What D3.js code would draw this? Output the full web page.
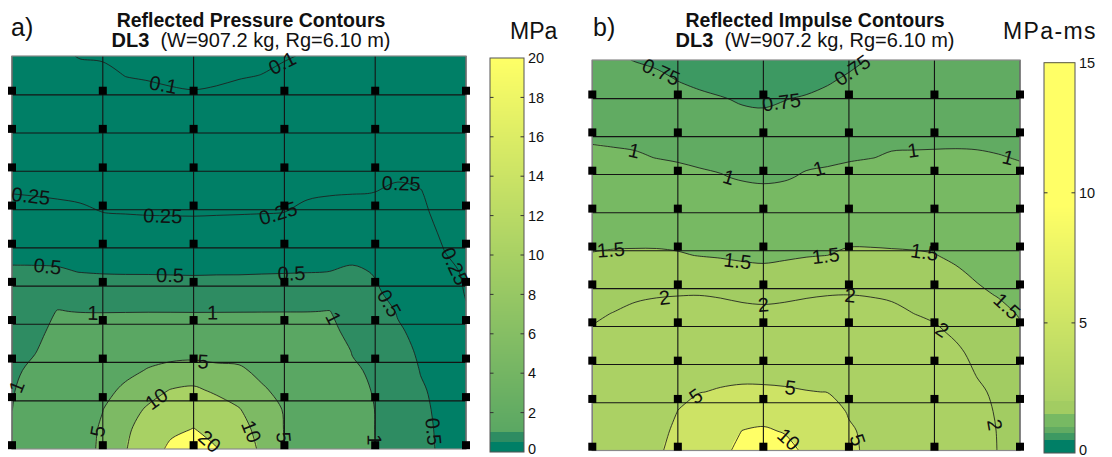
<!DOCTYPE html>
<html>
<head>
<meta charset="utf-8">
<title>Reflected Pressure and Impulse Contours</title>
<script src="https://cdn.jsdelivr.net/npm/d3@7"></script>
<style>
  html, body { margin: 0; padding: 0; background: #ffffff; }
  svg { display: block; font-family: "Liberation Sans", Arial, Helvetica, sans-serif; }
</style>
</head>
<body>
<svg id="chart" width="1112" height="457"></svg>
<script>
// ---- wall geometry: gauge columns 0..5 across, height 0..10.3 ----
const wallSpan = [0, 5];
const wallHeight = [0, 10.3];
const gaugeColumns = [0, 1, 2, 3, 4, 5];
const gaugeHeights = [0.1, 1.36, 2.37, 3.38, 4.38, 5.38, 6.38, 7.38, 8.39, 9.39];
const rowLines = [1.26, 2.27, 3.27, 4.27, 5.27, 6.27, 7.28, 8.28, 9.28];

// ---- reflected pressure (MPa), 21 x 21 nodes, top row first ----
const pressureField = [
  [0.13,0.12,0.11,0.097,0.094,0.085,0.08,0.075,0.07,0.075,0.08,0.088,0.095,0.105,0.12,0.13,0.14,0.15,0.16,0.165,0.17],
  [0.147,0.138,0.128,0.117,0.114,0.099,0.095,0.088,0.085,0.088,0.096,0.101,0.113,0.124,0.138,0.147,0.157,0.165,0.17,0.174,0.175],
  [0.164,0.155,0.147,0.137,0.133,0.12,0.114,0.11,0.106,0.111,0.117,0.122,0.132,0.143,0.155,0.164,0.173,0.18,0.181,0.182,0.18],
  [0.18,0.173,0.165,0.157,0.152,0.141,0.136,0.132,0.129,0.133,0.138,0.143,0.152,0.162,0.173,0.18,0.19,0.195,0.192,0.191,0.186],
  [0.198,0.19,0.183,0.176,0.172,0.162,0.157,0.154,0.151,0.155,0.16,0.164,0.172,0.181,0.191,0.197,0.206,0.21,0.203,0.2,0.192],
  [0.215,0.208,0.202,0.196,0.191,0.183,0.178,0.176,0.174,0.177,0.181,0.185,0.191,0.2,0.209,0.214,0.223,0.225,0.214,0.208,0.198],
  [0.232,0.225,0.22,0.215,0.211,0.204,0.2,0.198,0.196,0.199,0.203,0.206,0.211,0.219,0.226,0.231,0.239,0.24,0.24,0.217,0.204],
  [0.249,0.243,0.239,0.235,0.23,0.226,0.221,0.22,0.219,0.221,0.224,0.227,0.23,0.238,0.244,0.248,0.251,0.264,0.253,0.226,0.21],
  [0.315,0.296,0.278,0.266,0.251,0.247,0.243,0.242,0.241,0.243,0.245,0.248,0.251,0.275,0.296,0.31,0.307,0.3,0.26,0.235,0.216],
  [0.385,0.371,0.355,0.343,0.328,0.318,0.306,0.303,0.3,0.306,0.313,0.322,0.329,0.348,0.364,0.379,0.362,0.336,0.27,0.243,0.222],
  [0.455,0.445,0.432,0.42,0.404,0.397,0.39,0.387,0.384,0.389,0.393,0.4,0.407,0.421,0.432,0.448,0.417,0.372,0.29,0.252,0.228],
  [0.525,0.529,0.527,0.497,0.481,0.476,0.475,0.471,0.467,0.472,0.472,0.479,0.485,0.493,0.503,0.529,0.49,0.42,0.355,0.286,0.235],
  [0.592,0.636,0.766,0.735,0.695,0.686,0.686,0.675,0.664,0.671,0.678,0.696,0.714,0.734,0.754,0.636,0.52,0.449,0.38,0.31,0.243],
  [0.66,0.744,1.02,0.98,0.954,0.95,0.95,0.945,0.937,0.94,0.95,0.966,0.98,0.99,1.01,0.744,0.64,0.48,0.406,0.332,0.258],
  [0.727,0.852,1.15,1.4,1.66,1.93,2.22,2.24,2.23,2.24,2.25,1.99,1.7,1.41,1.12,0.852,0.71,0.53,0.434,0.353,0.272],
  [0.795,0.96,1.35,1.83,2.46,3.08,3.7,3.8,3.84,3.8,3.78,3.13,2.5,1.97,1.45,0.96,0.78,0.59,0.46,0.373,0.287],
  [0.863,1.16,1.7,2.26,3.26,4.2,5.2,5.96,6.29,5.73,5.49,4.26,3.3,2.62,1.94,1.1,0.88,0.68,0.489,0.395,0.301],
  [0.931,1.42,2.0,2.7,4.06,5.6,8.1,10.2,10.98,9.0,7.99,5.4,4.1,3.26,2.42,1.4,0.9,0.74,0.53,0.42,0.316],
  [0.99,1.68,2.3,3.1,4.95,7.8,10.7,14.3,15.6,12.9,10.26,7.4,4.7,3.74,2.78,1.82,0.974,0.77,0.555,0.436,0.33],
  [1.2,1.94,2.55,3.5,5.45,8.9,12.9,18,20.3,17,11.8,8.4,4.85,3.87,2.88,1.89,0.98,0.785,0.57,0.448,0.345],
  [1.4,2.2,2.8,3.8,5.55,9.6,15,22,30,20.4,14,8.85,5.05,4.0,2.97,1.93,0.98,0.79,0.575,0.456,0.36]
];
const pressureLevels = [0.1, 0.25, 0.5, 1, 5, 10, 20];
const pressureTicks = [0, 2, 4, 6, 8, 10, 12, 14, 16, 18, 20];
const pressureSteps = [0.5];
const pressureStepColors = ["#007f66", "#2e8c62"];
const pressureRamp = [1, 20];
const pressureRampColors = ["#5aa763", "#ffff66"];
// contour label spots: [level, column, height]
const pressureLabelSpots = [
  [0.1, 1.66, 9.49], [0.1, 3.0, 10.01],
  [0.25, 0.2, 6.47], [0.25, 1.66, 6.0], [0.25, 2.93, 6.16], [0.25, 4.27, 6.84], [0.25, 4.85, 4.74],
  [0.5, 0.39, 4.69], [0.5, 1.74, 4.43], [0.5, 3.08, 4.51], [0.5, 4.11, 3.75], [0.5, 4.6, 0.45],
  [1, 0.89, 3.43], [1, 2.21, 3.51], [1, 3.54, 3.43], [1, 4.0, 0.24], [1, 0.09, 1.6],
  [5, 2.09, 2.02], [5, 1.0, 0.45], [5, 3.02, 0.31],
  [10, 1.63, 1.18], [10, 2.62, 0.45],
  [20, 2.18, 0.21]
];

// ---- reflected impulse (MPa-ms), 21 x 21 nodes, top row first ----
const impulseField = [
  [0.8,0.77,0.745,0.72,0.68,0.64,0.6,0.56,0.55,0.57,0.6,0.64,0.71,0.76,0.8,0.79,0.78,0.79,0.8,0.81,0.82],
  [0.844,0.82,0.8,0.785,0.745,0.711,0.675,0.63,0.62,0.64,0.68,0.73,0.773,0.807,0.841,0.83,0.82,0.83,0.838,0.846,0.854],
  [0.889,0.869,0.853,0.838,0.805,0.786,0.763,0.73,0.72,0.745,0.77,0.794,0.825,0.854,0.883,0.869,0.86,0.869,0.876,0.882,0.888],
  [0.933,0.919,0.906,0.891,0.863,0.844,0.824,0.796,0.786,0.803,0.831,0.851,0.877,0.901,0.925,0.909,0.9,0.909,0.914,0.918,0.922],
  [0.978,0.969,0.959,0.943,0.921,0.902,0.885,0.857,0.847,0.862,0.891,0.908,0.929,0.948,0.966,0.948,0.94,0.948,0.952,0.954,0.956],
  [1.046,1.035,1.023,0.996,0.978,0.96,0.946,0.919,0.908,0.921,0.952,0.964,0.98,0.995,1.017,1.033,1.045,1.044,1.032,1.01,0.99],
  [1.139,1.133,1.123,1.099,1.069,1.036,1.013,0.98,0.969,0.98,1.024,1.042,1.072,1.098,1.12,1.13,1.137,1.125,1.104,1.081,1.045],
  [1.232,1.23,1.223,1.205,1.18,1.149,1.126,1.084,1.061,1.083,1.138,1.156,1.187,1.206,1.22,1.227,1.229,1.206,1.176,1.147,1.107],
  [1.325,1.327,1.322,1.311,1.29,1.263,1.24,1.203,1.183,1.204,1.251,1.27,1.301,1.313,1.321,1.324,1.321,1.287,1.248,1.214,1.169],
  [1.418,1.424,1.422,1.417,1.401,1.376,1.353,1.322,1.304,1.326,1.364,1.384,1.416,1.421,1.422,1.42,1.413,1.368,1.32,1.28,1.231],
  [1.516,1.535,1.542,1.544,1.526,1.489,1.467,1.441,1.426,1.448,1.478,1.499,1.558,1.555,1.54,1.529,1.509,1.449,1.392,1.346,1.294],
  [1.656,1.696,1.731,1.745,1.751,1.731,1.684,1.629,1.603,1.643,1.698,1.738,1.772,1.758,1.72,1.687,1.644,1.548,1.464,1.413,1.356],
  [1.795,1.857,1.92,1.946,1.975,1.984,1.944,1.885,1.859,1.89,1.941,1.979,1.992,1.961,1.904,1.845,1.779,1.674,1.551,1.48,1.418],
  [1.934,2.015,2.115,2.24,2.26,2.27,2.23,2.16,2.13,2.16,2.22,2.27,2.27,2.24,2.16,2.005,1.914,1.8,1.653,1.58,1.48],
  [2.05,2.16,2.31,2.56,2.97,3.15,3.18,3.11,3.06,3.09,3.12,3.16,2.91,2.7,2.5,2.3,2.1,1.927,1.756,1.68,1.55],
  [2.14,2.3,2.51,2.88,3.49,3.75,3.84,3.83,3.78,3.79,3.76,3.76,3.38,3.1,2.85,2.59,2.3,2.1,1.858,1.75,1.61],
  [2.23,2.44,2.71,3.2,4.0,4.34,4.51,4.54,4.5,4.49,4.39,4.36,3.85,3.53,3.21,2.89,2.57,2.25,1.96,1.82,1.67],
  [2.32,2.58,2.91,3.53,4.52,4.94,5.15,5.3,5.3,5.2,5.06,4.97,4.52,4.12,3.68,3.32,2.92,2.53,2.1,1.88,1.72],
  [2.42,2.72,3.11,3.85,5.03,5.84,6.55,7.94,8.23,7.6,6.45,5.8,4.85,4.45,4.01,3.57,3.13,2.69,2.2,1.93,1.76],
  [2.51,2.86,3.3,4.17,5.53,6.77,7.79,10.05,10.53,9.7,7.82,6.65,5.22,4.6,4.19,3.73,3.26,2.8,2.3,1.96,1.79],
  [2.6,3.0,3.5,4.5,6.0,7.7,9.0,11.0,12.5,11.5,9.2,7.5,5.35,4.65,4.26,3.79,3.32,2.86,2.35,1.97,1.82]
];
const impulseLevels = [0.5, 0.75, 1, 1.5, 2, 5, 10];
const impulseTicks = [0, 5, 10, 15];
const impulseSteps = [0.5, 0.75, 1, 1.5];
const impulseStepColors = ["#007f66", "#3d9962", "#61ab62", "#77b963", "#a2cc62"];
const impulseRamp = [2, 9.5];
const impulseRampColors = ["#abd164", "#ffff66"];
const impulseLabelSpots = [
  [0.75, 0.75, 9.77], [0.75, 2.23, 9.06], [0.75, 3.01, 10.12],
  [1, 0.48, 7.79], [1, 1.57, 7.08], [1, 2.66, 7.32], [1, 3.75, 7.85], [1, 4.85, 7.66],
  [1.5, 0.22, 5.24], [1.5, 1.69, 4.87], [1.5, 2.73, 5.1], [1.5, 3.88, 5.18], [1.5, 4.86, 3.84],
  [2, 0.85, 3.92], [2, 2.0, 3.79], [2, 3.01, 4.0], [2, 4.06, 3.1], [2, 4.68, 0.67],
  [5, 1.23, 1.38], [5, 2.32, 1.73], [5, 3.1, 0.28],
  [10, 2.34, 0.38]
];

const svg = d3.select("#chart");

const panels = [
  {
    key: "a", letter: "a)", title: "Reflected Pressure Contours", unit: "MPa",
    field: pressureField, levels: pressureLevels, ticks: pressureTicks,
    steps: pressureSteps, stepColors: pressureStepColors,
    ramp: pressureRamp, rampColors: pressureRampColors, labels: pressureLabelSpots,
    frame: { left: 12, right: 466, top: 56, bottom: 449 },
    bar: { left: 490, right: 524, top: 58, bottom: 452 },
    titleX: 251, letterX: 11, unitX: 510, unitSpacing: 0
  },
  {
    key: "b", letter: "b)", title: "Reflected Impulse Contours", unit: "MPa-ms",
    field: impulseField, levels: impulseLevels, ticks: impulseTicks,
    steps: impulseSteps, stepColors: impulseStepColors,
    ramp: impulseRamp, rampColors: impulseRampColors, labels: impulseLabelSpots,
    frame: { left: 592.3, right: 1020, top: 60, bottom: 450.5 },
    bar: { left: 1044, right: 1075, top: 62.7, bottom: 453 },
    titleX: 815, letterX: 593, unitX: 1003, unitSpacing: 1.4
  }
];

const closedCurve = d3.line().curve(d3.curveCatmullRomClosed.alpha(0.5));
const openCurve = d3.line().curve(d3.curveCatmullRom.alpha(0.5));

// pieces of every contour ring that lie inside the sampled area
function isolinePieces(multi, nx, ny) {
  const eps = 1e-7;
  const inside = p => p[0] >= 0.5 - eps && p[0] <= nx - 0.5 + eps &&
                      p[1] >= 0.5 - eps && p[1] <= ny - 0.5 + eps;
  const pieces = [];
  for (const poly of multi.coordinates) {
    for (const ring of poly) {
      let pts = ring.slice();
      const f = pts[0], l = pts[pts.length - 1];
      if (f[0] === l[0] && f[1] === l[1]) pts.pop();
      const n = pts.length;
      const ins = pts.map(inside);
      const start = ins.findIndex(v => !v);
      if (start < 0) { pieces.push({ pts, closed: true }); continue; }
      let cur = [];
      for (let k = 1; k <= n; k++) {
        const i = (start + k) % n;
        if (ins[i]) cur.push(pts[i]);
        else { if (cur.length > 1) pieces.push({ pts: cur, closed: false }); cur = []; }
      }
      if (cur.length > 1) pieces.push({ pts: cur, closed: false });
    }
  }
  return pieces;
}

function drawPanel(p) {
  const g = svg.append("g").attr("class", "panel-" + p.key);
  const x = d3.scaleLinear().domain(wallSpan).range([p.frame.left, p.frame.right]);
  const y = d3.scaleLinear().domain(wallHeight).range([p.frame.bottom, p.frame.top]);
  const ny = p.field.length, nx = p.field[0].length;
  // contour-space node positions -> wall coordinates
  const gx = d3.scaleLinear().domain([0.5, nx - 0.5]).range(wallSpan);
  const gy = d3.scaleLinear().domain([0.5, ny - 0.5]).range([wallHeight[1], wallHeight[0]]);
  const toPx = pt => [x(gx(pt[0])), y(gy(pt[1]))];

  const stepScale = d3.scaleThreshold().domain(p.steps).range(p.stepColors);
  const rampScale = d3.scaleLinear().domain(p.ramp).range(p.rampColors).clamp(true);
  const colour = v => (v >= p.ramp[0] ? rampScale(v) : stepScale(v));

  const clipId = "clip-" + p.key;
  svg.append("defs").append("clipPath").attr("id", clipId)
    .append("rect")
    .attr("x", p.frame.left).attr("y", p.frame.top)
    .attr("width", p.frame.right - p.frame.left)
    .attr("height", p.frame.bottom - p.frame.top);

  const plot = g.append("g").attr("clip-path", `url(#${clipId})`);
  plot.append("rect")
    .attr("x", p.frame.left).attr("y", p.frame.top)
    .attr("width", p.frame.right - p.frame.left)
    .attr("height", p.frame.bottom - p.frame.top)
    .attr("fill", colour(0));

  const contours = d3.contours().size([nx, ny]).thresholds(p.levels)(p.field.flat());

  // filled bands
  plot.selectAll("path.band").data(contours).join("path")
    .attr("class", "band")
    .attr("fill", d => colour(d.value))
    .attr("fill-rule", "evenodd")
    .attr("d", d => d.coordinates.map(poly => poly.map(ring => {
      const pts = ring.slice(0, -1).map(toPx);
      return closedCurve(pts);
    }).join("")).join(""));

  // iso-lines
  const linesByLevel = new Map();
  contours.forEach(c => {
    const pieces = isolinePieces(c, nx, ny).map(pc => ({ closed: pc.closed, pts: pc.pts.map(toPx) }));
    linesByLevel.set(c.value, pieces);
    plot.append("g").selectAll("path").data(pieces).join("path")
      .attr("fill", "none")
      .attr("stroke", "#1e1e1e")
      .attr("stroke-width", 0.85)
      .attr("d", pc => pc.closed ? closedCurve(pc.pts) : openCurve(pc.pts));
  });

  // gauge grid lines
  g.append("g").selectAll("line").data(gaugeColumns).join("line")
    .attr("x1", d => x(d)).attr("x2", d => x(d))
    .attr("y1", p.frame.top).attr("y2", p.frame.bottom)
    .attr("stroke", "#141414").attr("stroke-width", 1.1);
  g.append("g").selectAll("line").data(rowLines).join("line")
    .attr("x1", p.frame.left).attr("x2", p.frame.right)
    .attr("y1", d => y(d)).attr("y2", d => y(d))
    .attr("stroke", "#141414").attr("stroke-width", 1.1);

  // frame
  g.append("rect")
    .attr("x", p.frame.left).attr("y", p.frame.top)
    .attr("width", p.frame.right - p.frame.left)
    .attr("height", p.frame.bottom - p.frame.top)
    .attr("fill", "none").attr("stroke", "#8a8a8a").attr("stroke-width", 1.2);

  // contour labels, placed on the nearest point of their iso-line
  const labelData = p.labels.map(([level, wx, wy]) => {
    const target = [x(wx), y(wy)];
    let best = null;
    (linesByLevel.get(level) || []).forEach(pc => {
      const pts = pc.pts;
      for (let i = 0; i < pts.length - 1; i++) {
        const a = pts[i], b = pts[i + 1];
        const dx = b[0] - a[0], dy = b[1] - a[1];
        const len2 = dx * dx + dy * dy || 1;
        let t = ((target[0] - a[0]) * dx + (target[1] - a[1]) * dy) / len2;
        t = Math.max(0, Math.min(1, t));
        const q = [a[0] + t * dx, a[1] + t * dy];
        const dist = Math.hypot(q[0] - target[0], q[1] - target[1]);
        if (!best || dist < best.dist) {
          const i0 = Math.max(0, i - 1), i1 = Math.min(pts.length - 1, i + 2);
          const ang = Math.atan2(pts[i1][1] - pts[i0][1], pts[i1][0] - pts[i0][0]) * 180 / Math.PI;
          best = { dist, q, ang };
        }
      }
    });
    if (!best) best = { q: target, ang: 0 };
    let ang = best.ang;
    if (ang > 90) ang -= 180;
    if (ang < -90) ang += 180;
    return { level, pos: best.q, ang };
  });
  g.append("g").selectAll("text").data(labelData).join("text")
    .attr("transform", d => `translate(${d.pos[0]},${d.pos[1]}) rotate(${d.ang})`)
    .attr("text-anchor", "middle")
    .attr("dy", "0.36em")
    .attr("font-size", 20)
    .attr("fill", "#111")
    .text(d => d.level);

  // gauges
  const gauges = gaugeColumns.flatMap(c => gaugeHeights.map(h => [c, h]));
  g.append("g").selectAll("rect").data(gauges).join("rect")
    .attr("x", d => x(d[0]) - 4).attr("y", d => y(d[1]) - 4)
    .attr("width", 8).attr("height", 8)
    .attr("fill", "#000");

  // colour bar
  const barMax = p.ticks[p.ticks.length - 1];
  const by = d3.scaleLinear().domain([0, barMax]).range([p.bar.bottom, p.bar.top]);
  const strips = d3.range(Math.floor(p.bar.top), Math.ceil(p.bar.bottom));
  g.append("g").selectAll("rect").data(strips).join("rect")
    .attr("x", p.bar.left).attr("width", p.bar.right - p.bar.left)
    .attr("y", d => d).attr("height", 1.05)
    .attr("fill", d => colour(by.invert(d + 0.5)));
  g.append("rect")
    .attr("x", p.bar.left).attr("y", p.bar.top)
    .attr("width", p.bar.right - p.bar.left).attr("height", p.bar.bottom - p.bar.top)
    .attr("fill", "none").attr("stroke", "#555").attr("stroke-width", 1);
  const inner = p.ticks.slice(1, -1);
  g.append("g").selectAll("path").data(inner).join("path")
    .attr("d", d => `M${p.bar.left},${by(d)}h3.5M${p.bar.right},${by(d)}h-3.5`)
    .attr("stroke", "#333").attr("stroke-width", 1);
  const axis = g.append("g")
    .attr("transform", `translate(${p.bar.right},0)`)
    .call(d3.axisRight(by).tickValues(p.ticks).tickSize(0).tickPadding(4));
  axis.select(".domain").remove();
  axis.selectAll("text")
    .attr("font-size", 14.5)
    .attr("font-family", "Liberation Sans, Arial, sans-serif")
    .attr("fill", "#111")
    .attr("dy", d => (d === 0 ? "0.12em" : "0.32em"));

  // headings
  g.append("text").attr("x", p.letterX).attr("y", 36)
    .attr("font-size", 25).attr("fill", "#111").text(p.letter);
  g.append("text").attr("x", p.titleX).attr("y", 27)
    .attr("text-anchor", "middle").attr("font-size", 19.5).attr("font-weight", "bold")
    .attr("fill", "#111").text(p.title);
  const sub = g.append("text").attr("x", p.titleX).attr("y", 47)
    .attr("text-anchor", "middle").attr("font-size", 20).attr("fill", "#111")
    .style("white-space", "pre");
  sub.append("tspan").attr("font-weight", "bold").text("DL3");
  sub.append("tspan").text("  (W=907.2 kg, Rg=6.10 m)");
  g.append("text").attr("x", p.unitX).attr("y", 39)
    .attr("font-size", 23).attr("letter-spacing", p.unitSpacing).attr("fill", "#111").text(p.unit);
}

panels.forEach(drawPanel);
</script>
</body>
</html>
